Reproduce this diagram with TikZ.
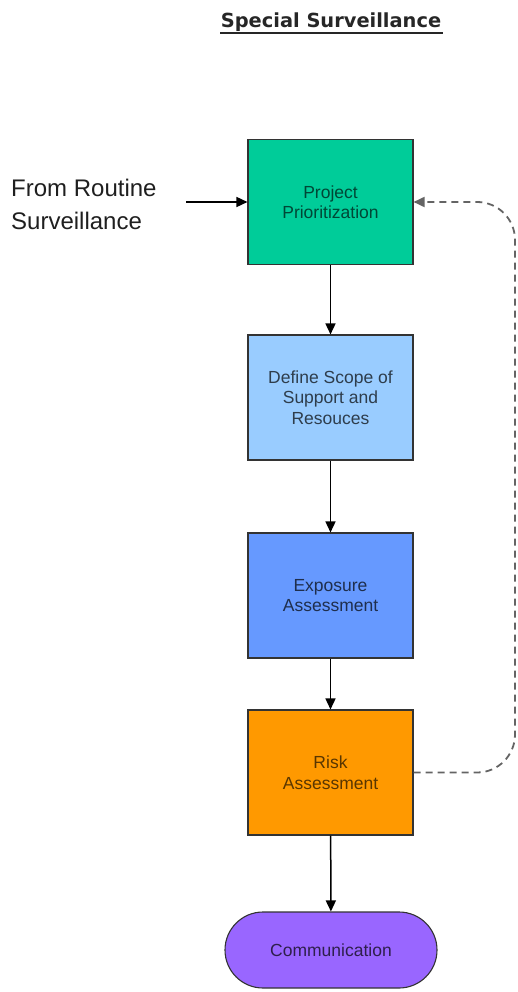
\documentclass[tikz,border=0pt]{standalone}
\usepackage{fontspec}
\setmainfont{Liberation Sans}
\newfontfamily\titlefont{DejaVu Sans}
\usetikzlibrary{arrows.meta,shapes.misc}

\definecolor{prioGreen}{RGB}{0,204,153}
\definecolor{scopeBlue}{RGB}{153,204,255}
\definecolor{exposureBlue}{RGB}{102,153,255}
\definecolor{riskOrange}{RGB}{255,153,0}
\definecolor{commPurple}{RGB}{153,102,255}
\definecolor{edgeGray}{RGB}{51,51,51}
\definecolor{loopGray}{RGB}{100,100,100}

\tikzset{
  stepbox/.style={rectangle, draw=edgeGray, line width=1.1pt,
    minimum width=165pt, minimum height=125pt, inner sep=4pt,
    align=center, font=\fontsize{17.5}{20.5}\selectfont},
  endbox/.style={rounded rectangle, draw=edgeGray, line width=1.1pt,
    minimum width=220pt, minimum height=76pt, inner sep=4pt,
    align=center, font=\fontsize{17.5}{20.5}\selectfont},
  flow/.style={draw=black, line width=1.5pt,
    -{Triangle[length=11pt,width=10pt]}},
  loop/.style={draw=loopGray, line width=1.8pt, dash pattern=on 7pt off 5pt,
    rounded corners=38pt, -{Triangle[length=11pt,width=10pt]}}
}

\begin{document}
\begin{tikzpicture}[x=1pt,y=-1pt]
  \useasboundingbox (0,0) rectangle (517,992);

  % heading
  \node[font=\titlefont\bfseries\fontsize{19.4}{22}\selectfont, text=black!85,
        anchor=base, inner sep=0] (title) at (331,28) {Special Surveillance};
  \draw[black!85, line width=2pt] (220,33.5) -- (443,33.5);

  % process steps
  \node[stepbox, fill=prioGreen, text=prioGreen!35!black] (prio) at (330.5,202)
    {Project\\Prioritization};
  \node[stepbox, fill=scopeBlue, text=scopeBlue!30!black] (scope) at (330.5,397.5)
    {Define Scope of\\Support and\\Resouces};
  \node[stepbox, fill=exposureBlue, text=exposureBlue!30!black] (expo) at (330.5,595.5)
    {Exposure\\Assessment};
  \node[stepbox, fill=riskOrange, text=riskOrange!35!black] (risk) at (330.5,772.5)
    {Risk\\Assessment};
  \node[endbox, fill=commPurple, text=commPurple!30!black] (comm) at (331,950)
    {Communication};

  % external input
  \node[anchor=west, align=left, inner sep=0, text=black!88,
        font=\fontsize{24}{33}\selectfont] (routine) at (11,204)
    {From Routine\\Surveillance};
  \coordinate (inStart) at (186,202);
  \draw[flow] (inStart) -- (prio.west);

  % main flow
  \draw[flow] (prio) -- (scope);
  \draw[flow] (scope) -- (expo);
  \draw[flow] (expo) -- (risk);
  \draw[flow] (risk) -- (comm);

  % feedback loop
  \coordinate (loopLow) at (515,772.5);
  \coordinate (loopHigh) at (515,202);
  \draw[loop] (risk.east) -- (loopLow) -- (loopHigh) -- (prio.east);
\end{tikzpicture}
\end{document}
